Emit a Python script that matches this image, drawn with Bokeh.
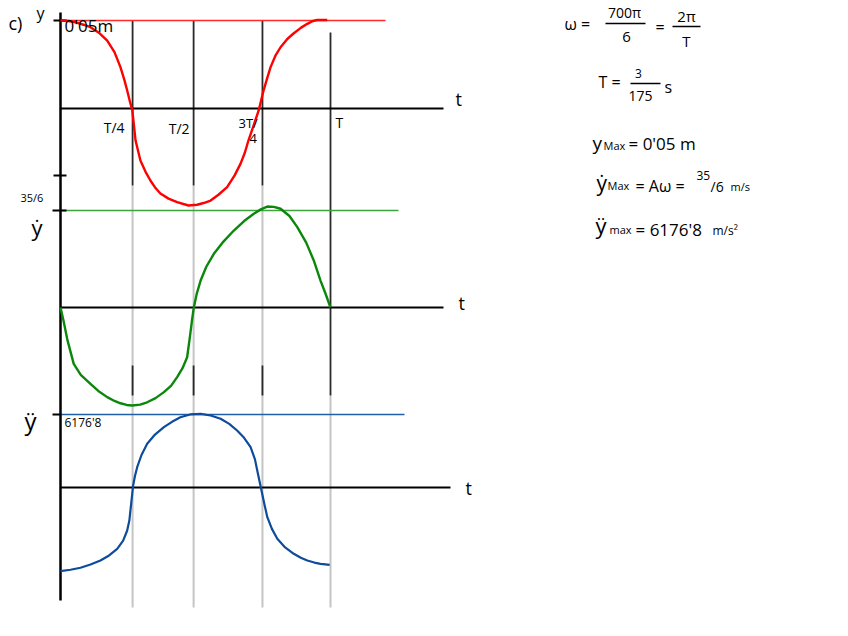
from bokeh.plotting import figure
from bokeh.models import Range1d
from bokeh.core.properties import value
from bokeh.embed import file_html
from bokeh.resources import INLINE

# ---------------- data ----------------
# time in units of the period T
T_MARKS = [0.267, 0.493, 0.748, 1.0]
T_LABELS = ["T/4", "T/2", "3T/4", "T"]

Y_MAX = 0.05          # m
V_MAX = 35 / 6        # m/s
A_MAX = 6176.8        # m/s^2
V_TICK2 = 7.94        # extra tick drawn above 35/6 on the velocity axis

# displacement y(t)  [m]
t_y = [0.0, 0.03, 0.056, 0.085, 0.111, 0.145, 0.173, 0.2, 0.222, 0.237, 0.247, 0.257,
       0.266, 0.278, 0.296, 0.315, 0.333, 0.352, 0.370, 0.40, 0.432, 0.474, 0.506,
       0.530, 0.556, 0.585, 0.617, 0.645, 0.667, 0.683, 0.696, 0.715, 0.734, 0.752,
       0.765, 0.778, 0.796, 0.815, 0.84, 0.863, 0.89, 0.914, 0.935, 0.951, 0.988]
y_m = [0.0500, 0.0497, 0.0489, 0.0476, 0.0462, 0.0427, 0.0386, 0.032, 0.0235, 0.016,
       0.0102, 0.004, -0.0011, -0.0182, -0.0295, -0.036, -0.0409, -0.0452, -0.0483,
       -0.0512, -0.0532, -0.0551, -0.0547, -0.0537, -0.0523, -0.049, -0.0447, -0.038,
       -0.0313, -0.025, -0.0182, -0.0097, -0.0011, 0.0102, 0.017, 0.0235, 0.030,
       0.0348, 0.0395, 0.0426, 0.0458, 0.0481, 0.0497, 0.0503, 0.0503]

# velocity  [m/s]
t_v = [0.0, 0.011, 0.026, 0.049, 0.075, 0.111, 0.14, 0.173, 0.2, 0.222, 0.245, 0.266,
       0.295, 0.321, 0.352, 0.383, 0.41, 0.432, 0.452, 0.469, 0.480, 0.487, 0.494,
       0.505, 0.519, 0.54, 0.568, 0.6, 0.642, 0.68, 0.716, 0.742, 0.766, 0.79, 0.815,
       0.848, 0.877, 0.91, 0.938, 0.963, 0.98, 1.0]
v_ms = [0.0, -0.78, -1.98, -3.39, -4.05, -4.59, -5.02, -5.39, -5.62, -5.76, -5.86,
        -5.89, -5.84, -5.70, -5.45, -5.09, -4.7, -4.19, -3.65, -2.99, -1.68, -0.78,
        0.02, 0.85, 1.62, 2.45, 3.23, 3.9, 4.63, 5.2, 5.64, 5.9, 6.07, 6.05, 5.94,
        5.5, 4.83, 3.9, 2.83, 1.62, 0.9, 0.0]

# acceleration  [m/s^2]
t_a = [0.0, 0.037, 0.074, 0.111, 0.148, 0.18, 0.210, 0.232, 0.247, 0.255, 0.259,
       0.264, 0.269, 0.276, 0.284, 0.30, 0.321, 0.35, 0.383, 0.413, 0.444, 0.48,
       0.519, 0.556, 0.593, 0.625, 0.654, 0.68, 0.704, 0.72, 0.734, 0.747, 0.756,
       0.766, 0.783, 0.803, 0.832, 0.864, 0.89, 0.914, 0.94, 0.963, 0.997]
a_ms2 = [-7082, -6960, -6794, -6520, -6177, -5750, -5187, -4500, -3638, -2800, -1946,
         -900, 169, 1000, 1718, 2750, 3697, 4480, 5102, 5560, 5948, 6180, 6236, 6090,
         5813, 5380, 4823, 4200, 3410, 2400, 871, -533, -1500, -2513, -3500, -4341,
         -5070, -5610, -5940, -6177, -6350, -6456, -6540]

# ---------------- layout helpers (picture pixels) ----------------
W, H = 832, 620
PX_TOP, PX_BOT = 0, H
PX_LEFT, PX_RIGHT = 0, W
X0 = 60.0                          # x of t = 0
PX_PER_T = 270.0                   # px per period


def panel_range(vmax, y_max_px, y_zero_px):
    s = vmax / (y_zero_px - y_max_px)
    return Range1d(-(PX_BOT - y_zero_px) * s, (y_zero_px - PX_TOP) * s)


def tpx(px):
    return (px - X0) / PX_PER_T


p = figure(width=W, height=H, output_backend="svg", toolbar_location=None,
           x_range=Range1d(tpx(PX_LEFT), tpx(PX_RIGHT)),
           y_range=panel_range(Y_MAX, 20, 108),
           x_axis_location=None, y_axis_location=None, min_border=0,
           background_fill_color="white", border_fill_color="white")
p.grid.visible = False
p.outline_line_color = None
p.extra_y_ranges = {"v": panel_range(V_MAX, 210, 307),
                    "a": panel_range(A_MAX, 414, 487),
                    "px": Range1d(PX_BOT, PX_TOP)}
p.extra_x_ranges = {"pxx": Range1d(PX_LEFT, PX_RIGHT)}

GRAY = "#c4c4c4"
DARK = "#2a2a2a"

# gray guide lines through the lower panels
p.segment(x0=T_MARKS[:3], x1=T_MARKS[:3], y0=[185] * 3, y1=[607] * 3,
          y_range_name="px", line_color=GRAY, line_width=2)
p.segment(x0=[T_MARKS[3]], x1=[T_MARKS[3]], y0=[395], y1=[607],
          y_range_name="px", line_color=GRAY, line_width=2)
# dark guide lines
p.segment(x0=T_MARKS[:3], x1=T_MARKS[:3], y0=[20] * 3, y1=[185] * 3,
          y_range_name="px", line_color=DARK, line_width=1.8)
p.segment(x0=[T_MARKS[3]], x1=[T_MARKS[3]], y0=[32], y1=[395],
          y_range_name="px", line_color=DARK, line_width=1.8)
p.segment(x0=T_MARKS[:3], x1=T_MARKS[:3], y0=[365] * 3, y1=[395] * 3,
          y_range_name="px", line_color=DARK, line_width=1.8)

# reference (max) lines
p.line([0, tpx(385)], [Y_MAX, Y_MAX], line_color="#ff2a2a", line_width=1.5)
p.line([0, tpx(398)], [V_MAX, V_MAX], y_range_name="v", line_color="#3da33d", line_width=1.5)
p.line([0, tpx(404)], [A_MAX, A_MAX], y_range_name="a", line_color="#1f5fa8", line_width=1.3)

# time axes
p.line([0, tpx(443)], [0, 0], line_color="black", line_width=2.2)
p.line([0, tpx(443)], [0, 0], y_range_name="v", line_color="black", line_width=2.2)
p.line([0, tpx(450)], [0, 0], y_range_name="a", line_color="black", line_width=2.2)

# vertical main axis
p.line([0, 0], [12, 600], y_range_name="px", line_color="black", line_width=2.5)
# ticks on vertical axis
p.line([tpx(53), tpx(66)], [Y_MAX, Y_MAX], line_color="black", line_width=2)
p.line([tpx(52), tpx(66)], [V_MAX, V_MAX], y_range_name="v", line_color="black", line_width=2)
p.line([tpx(53), tpx(66)], [V_TICK2, V_TICK2], y_range_name="v", line_color="black", line_width=2)
p.line([tpx(52), tpx(60)], [A_MAX, A_MAX], y_range_name="a", line_color="black", line_width=2)

# curves
p.line(t_y, y_m, line_color="#ff0000", line_width=2.4, line_join="round")
p.line(t_v, v_ms, y_range_name="v", line_color="#0b870b", line_width=2.4, line_join="round")
p.line(t_a, a_ms2, y_range_name="a", line_color="#0d4c9c", line_width=2.2, line_join="round")

FONT = value("Open Sans")


def txt(x, y, s, size, align="left", base="middle"):
    p.text(x=[x], y=[y], text=[s], x_range_name="pxx", y_range_name="px",
           text_font=FONT, text_font_size=f"{size}px", text_color="black",
           text_align=align, text_baseline=base)


def bar(x0, x1, y):
    p.line([x0, x1], [y, y], x_range_name="pxx", y_range_name="px",
           line_color="black", line_width=1.6)


# left-side labels
txt(8, 22, "c)", 18)
txt(36, 12, "y", 16)
txt(64, 25, "0'05m", 17)
txt(31, 226, "ẏ", 22)
txt(20, 197, "35/6", 11)
txt(24, 420, "ÿ", 24)
txt(64, 422, "6176'8", 12)

# period labels
txt(X0 + T_MARKS[0] * PX_PER_T - 8, 127, T_LABELS[0], 14, align="right")
txt(X0 + T_MARKS[1] * PX_PER_T - 4, 128, T_LABELS[1], 14, align="right")
txt(238, 122, T_LABELS[2][:3], 13)
txt(249, 138, T_LABELS[2][3:], 13)
txt(X0 + T_MARKS[3] * PX_PER_T + 5, 122, T_LABELS[3], 14)

# axis names "t"
txt(455, 98, "t", 18)
txt(458, 302, "t", 18)
txt(465, 487, "t", 18)

# right-hand formulas
txt(564, 23, "ω =", 16)
txt(624, 12, "700π", 14, align="center")
bar(605, 645, 23)
txt(626, 36, "6", 15, align="center")
txt(655, 26, "=", 16)
txt(686, 15, "2π", 15, align="center")
bar(672, 700, 26)
txt(686, 40, "T", 15, align="center")

txt(598, 81, "T =", 16)
txt(638, 73, "3", 12, align="center")
bar(630, 660, 83)
txt(640, 95, "175", 14, align="center")
txt(664, 86, "s", 16)

txt(592, 142, "y", 19)
txt(603, 145, "Max", 11)
txt(628, 143, "= 0'05 m", 17)

txt(596, 182, "ẏ", 21)
txt(607, 185, "Max", 11)
txt(635, 185, "= Aω =", 16)
txt(696, 175, "35", 12)
txt(710, 186, "/6", 14)
txt(730, 186, "m/s", 11)

txt(595, 224, "ÿ", 22)
txt(609, 229, "max", 11)
txt(635, 229, "= 6176'8", 17)
txt(712, 230, "m/s²", 12)

open("out.html", "w").write(file_html(p, INLINE))
